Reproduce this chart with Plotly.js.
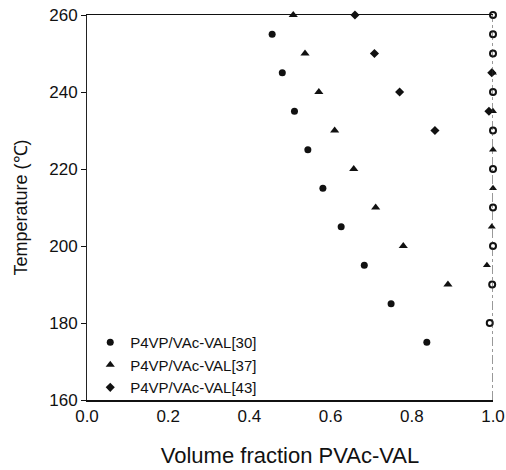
<!DOCTYPE html>
<html>
<head>
<meta charset="utf-8">
<script src="https://cdn.plot.ly/plotly-3.0.1.min.js"></script>
<style>html,body{margin:0;padding:0;background:#fff;}#chart{width:506px;height:470px;}</style>
</head>
<body>
<div id="chart"></div>
<script>
// Series [30] (filled circles)
const temp30 = [255, 245, 235, 225, 215, 205, 195, 185, 175];
const frac30 = [0.456, 0.481, 0.511, 0.544, 0.581, 0.626, 0.683, 0.749, 0.837];
// Series [37] (filled triangles)
const temp37 = [260, 250, 240, 230, 220, 210, 200, 190];
const frac37 = [0.508, 0.537, 0.571, 0.610, 0.657, 0.711, 0.779, 0.889];
// Series [43] (filled diamonds)
const temp43 = [260, 250, 240, 230];
const frac43 = [0.660, 0.708, 0.770, 0.857];
// Points along the right edge (fraction ~1.0)
const edgeTempCircle = [260, 255, 250, 240, 230, 220, 210, 200, 190, 180];
const edgeFracCircle = [1.0, 1.0, 1.0, 1.0, 1.0, 1.0, 1.0, 1.0, 0.998, 0.992];
const edgeTempTri = [245, 235, 225, 215, 205, 195];
const edgeFracTri = [1.0, 1.0, 1.0, 1.0, 0.997, 0.985];
const edgeTempDia = [245, 235];
const edgeFracDia = [0.997, 0.99];

const legendNames = ["P4VP/VAc-VAL[30]", "P4VP/VAc-VAL[37]", "P4VP/VAc-VAL[43]"];
const xTicks = [0.0, 0.2, 0.4, 0.6, 0.8, 1.0];
const xTickText = ["0.0", "0.2", "0.4", "0.6", "0.8", "1.0"];
const yTicks = [160, 180, 200, 220, 240, 260];

const ink = "#111";
const traces = [
  {x: frac30, y: temp30, name: legendNames[0], mode: "markers", type: "scatter",
   marker: {symbol: "circle", size: 7, color: ink}, cliponaxis: false},
  {x: frac37, y: temp37, name: legendNames[1], mode: "markers", type: "scatter",
   marker: {symbol: "triangle-up", size: 8, color: ink}, cliponaxis: false},
  {x: frac43, y: temp43, name: legendNames[2], mode: "markers", type: "scatter",
   marker: {symbol: "diamond", size: 7, color: ink}, cliponaxis: false},
  {x: edgeFracCircle, y: edgeTempCircle, mode: "markers", type: "scatter", showlegend: false,
   marker: {symbol: "circle-open", size: 6, color: ink, line: {width: 2, color: ink}}, cliponaxis: false},
  {x: edgeFracTri, y: edgeTempTri, mode: "markers", type: "scatter", showlegend: false,
   marker: {symbol: "triangle-up", size: 7, color: ink}, cliponaxis: false},
  {x: edgeFracDia, y: edgeTempDia, mode: "markers", type: "scatter", showlegend: false,
   marker: {symbol: "diamond", size: 7, color: ink}, cliponaxis: false}
];

const layout = {
  width: 506, height: 470,
  margin: {l: 87, r: 13, t: 15, b: 70},
  paper_bgcolor: "#fff", plot_bgcolor: "#fff",
  font: {family: "Liberation Sans, Arial, sans-serif", color: "#111"},
  showlegend: true,
  legend: {x: 0.008, y: 0.192, xanchor: "left", yanchor: "top",
           bgcolor: "rgba(0,0,0,0)", borderwidth: 0,
           font: {size: 15, color: "#111"}, tracegroupgap: 0, itemwidth: 30},
  xaxis: {
    range: [0, 1.0], showgrid: false, zeroline: false,
    showline: true, linecolor: "#111", linewidth: 1.5, mirror: true,
    tickmode: "array", tickvals: xTicks, ticktext: xTickText, ticks: "",
    tickfont: {size: 17},
    title: {text: "Volume fraction PVAc-VAL", font: {size: 22}, standoff: 22}
  },
  yaxis: {
    range: [160, 260], showgrid: false, zeroline: false,
    showline: true, linecolor: "#222", linewidth: 1,
    tickmode: "array", tickvals: yTicks, ticks: "outside", ticklen: 5, tickcolor: "#111",
    tickfont: {size: 17},
    title: {text: "Temperature (℃)", font: {size: 18}, standoff: 16}
  },
  shapes: [
    {type: "line", xref: "x", yref: "paper", x0: 1.0, x1: 1.0, y0: 0, y1: 1,
     line: {color: "#333", width: 1, dash: "dashdot"}}
  ]
};

Plotly.newPlot("chart", traces, layout, {staticPlot: true, displayModeBar: false});
</script>
</body>
</html>
